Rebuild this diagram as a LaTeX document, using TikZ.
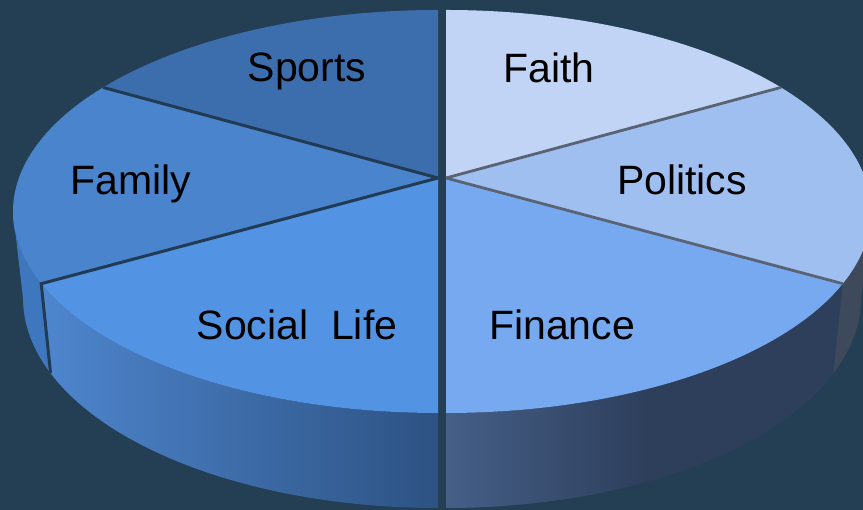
\documentclass[tikz,border=0pt]{standalone}
\usepackage{fontspec}
\setmainfont{Liberation Sans}

\definecolor{bgc}{HTML}{243F53}
\definecolor{sportsc}{HTML}{3C6EAD}
\definecolor{familyc}{HTML}{4A84CC}
\definecolor{socialc}{HTML}{5294E3}
\definecolor{faithc}{HTML}{C1D4F5}
\definecolor{politicsc}{HTML}{A0BFF1}
\definecolor{financec}{HTML}{77A9F0}
\definecolor{familyside}{HTML}{3E77BD}
\definecolor{socialsidel}{HTML}{4E86CE}
\definecolor{socialsider}{HTML}{2D5283}
\definecolor{financesidel}{HTML}{455F87}
\definecolor{financesider}{HTML}{2E3F5C}
\definecolor{politicsside}{HTML}{3E4A5C}
\definecolor{leftline}{HTML}{213B55}
\definecolor{rightline}{HTML}{596373}

\tikzset{
  topr/.style={x radius=425pt,y radius=201.5pt},
  botr/.style={x radius=415pt,y radius=210pt},
  lbl/.style={anchor=base,inner sep=0pt,text=black,font=\fontsize{41}{48}\selectfont},
  lsep/.style={draw=leftline,line width=3pt},
  rsep/.style={draw=rightline,line width=2.8pt},
}

\begin{document}
\begin{tikzpicture}[x=1pt,y=1pt]
\useasboundingbox (0,0) rectangle (863,510);
\fill[bgc] (0,0) rectangle (863,510);

\coordinate (lapex) at (438,332);
\coordinate (ltop)  at (438,298.5);
\coordinate (lbot)  at (438,212);
\coordinate (rapex) at (446,332);
\coordinate (rtop)  at (446,298.5);
\coordinate (rbot)  at (446,212);

% rim points, left half
\path (ltop) ++(90:425pt and 201.5pt)  coordinate (lt90);
\path (ltop) ++(142:425pt and 201.5pt) coordinate (lt142);
\path (ltop) ++(180:425pt and 201.5pt) coordinate (lt180);
\path (ltop) ++(201:425pt and 201.5pt) coordinate (lt201);
\path (ltop) ++(270:425pt and 201.5pt) coordinate (lt270);
\path (lbot) ++(201:415pt and 210pt)   coordinate (lb201);
\path (lbot) ++(270:415pt and 210pt)   coordinate (lb270);

% rim points, right half
\path (rtop) ++(90:425pt and 201.5pt)  coordinate (rt90);
\path (rtop) ++(38:425pt and 201.5pt)  coordinate (rt38);
\path (rtop) ++(0:425pt and 201.5pt)   coordinate (rt0);
\path (rtop) ++(-21:425pt and 201.5pt) coordinate (rt339);
\path (rtop) ++(-90:425pt and 201.5pt) coordinate (rt270);
\path (rbot) ++(0:415pt and 210pt)     coordinate (rb0);
\path (rbot) ++(-21:415pt and 210pt)   coordinate (rb339);
\path (rbot) ++(-90:415pt and 210pt)   coordinate (rb270);

% sides
\fill[familyside] (lt180) arc[topr,start angle=180,end angle=201]
  -- (lb201) arc[botr,start angle=201,end angle=180] -- cycle;
\shade[left color=socialsidel,right color=socialsider] (lt201) arc[topr,start angle=201,end angle=270]
  -- (lb270) arc[botr,start angle=270,end angle=201] -- cycle;
\shade[left color=financesidel,right color=financesider,middle color=financesider] (rt270) arc[topr,start angle=-90,end angle=-21]
  -- (rb339) arc[botr,start angle=-21,end angle=-90] -- cycle;
\fill[politicsside] (rt339) arc[topr,start angle=-21,end angle=0]
  -- (rb0) arc[botr,start angle=0,end angle=-21] -- cycle;

% top faces
\fill[sportsc]   (lapex) -- (lt90)  arc[topr,start angle=90,end angle=142]  -- cycle;
\fill[familyc]   (lapex) -- (lt142) arc[topr,start angle=142,end angle=201] -- cycle;
\fill[socialc]   (lapex) -- (lt201) arc[topr,start angle=201,end angle=270] -- cycle;
\fill[faithc]    (rapex) -- (rt90)  arc[topr,start angle=90,end angle=38]   -- cycle;
\fill[politicsc] (rapex) -- (rt38)  arc[topr,start angle=38,end angle=-21]  -- cycle;
\fill[financec]  (rapex) -- (rt339) arc[topr,start angle=-21,end angle=-90] -- cycle;

% separators
\draw[lsep] (lapex) -- (lt142);
\draw[lsep] (lapex) -- (lt201) -- (lb201);
\draw[rsep] (rapex) -- (rt38);
\draw[rsep] (rapex) -- (rt339);

% labels
\node[lbl] (sports)   at (307,428) {Sports};
\node[lbl] (family)   at (131,315) {Family};
\node[lbl] (social)   at (297,170) {Social\ \ Life};
\node[lbl] (faith)    at (549,427) {Faith};
\node[lbl] (politics) at (682,315) {Politics};
\node[lbl] (finance)  at (562,170) {Finance};
\end{tikzpicture}
\end{document}
